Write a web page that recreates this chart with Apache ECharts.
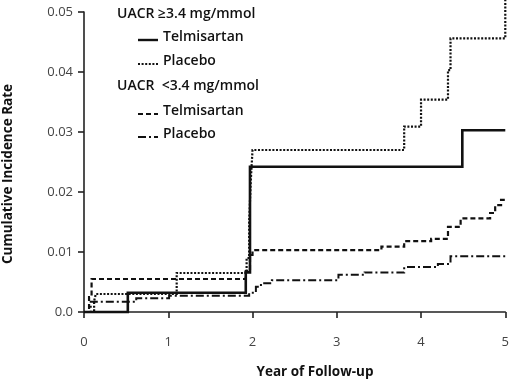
<!DOCTYPE html>
<html><head><meta charset="utf-8">
<script src="https://cdn.jsdelivr.net/npm/echarts@6/dist/echarts.min.js"></script>
<style>html,body{margin:0;padding:0;background:#fff}#c{width:512px;height:380px}</style>
</head><body><div id="c"></div>
<script>
// Step series: [year, cumulative incidence]
var telmiHigh = [[0,0],[0.52,0],[0.52,0.0032],[1.92,0.0032],[1.92,0.0066],[1.97,0.0066],[1.97,0.0242],[4.49,0.0242],[4.49,0.0303],[5,0.0303]];
var placeboHigh = [[0,0],[0.12,0],[0.12,0.0018],[0.14,0.0018],[0.14,0.003],[1.1,0.003],[1.1,0.0065],[1.93,0.0065],[1.93,0.009],[1.96,0.009],[1.96,0.015],[1.98,0.015],[1.98,0.022],[2.0,0.022],[2.0,0.027],[3.8,0.027],[3.8,0.0309],[4.0,0.0309],[4.0,0.0354],[4.32,0.0354],[4.32,0.0403],[4.35,0.0403],[4.35,0.0456],[5.0,0.0456],[5.0,0.052]];
var telmiLow = [[0,0],[0.06,0],[0.06,0.0025],[0.09,0.0025],[0.09,0.0055],[1.92,0.0055],[1.92,0.0068],[1.97,0.0068],[1.97,0.0095],[2.0,0.0095],[2.0,0.0103],[3.53,0.0103],[3.53,0.0109],[3.8,0.0109],[3.8,0.0118],[4.12,0.0118],[4.12,0.0122],[4.32,0.0122],[4.32,0.0142],[4.47,0.0142],[4.47,0.0156],[4.82,0.0156],[4.82,0.0165],[4.88,0.0165],[4.88,0.0178],[4.95,0.0178],[4.95,0.0187],[5,0.0187]];
var placeboLow = [[0,0],[0.08,0],[0.08,0.0017],[0.62,0.0017],[0.62,0.0023],[1.01,0.0023],[1.01,0.0027],[1.96,0.0027],[1.96,0.0032],[2.04,0.0032],[2.04,0.0042],[2.1,0.0042],[2.1,0.0048],[2.23,0.0048],[2.23,0.0053],[3.02,0.0053],[3.02,0.0062],[3.33,0.0062],[3.33,0.0066],[3.8,0.0066],[3.8,0.0075],[4.2,0.0075],[4.2,0.008],[4.35,0.008],[4.35,0.0093],[5,0.0093]];
var xTicks = [0,1,2,3,4,5];
var yTicks = ['0.0','0.01','0.02','0.03','0.04','0.05'];
var legendHeads = ['UACR \u22653.4 mg/mmol','UACR  <3.4 mg/mmol'];
var legendItems = ['Telmisartan','Placebo','Telmisartan','Placebo'];

var chart = echarts.init(document.getElementById('c'), null, {renderer:'canvas'});
var F = 'Open Sans';
var ink = '#111';
function ser(name, data, type, width, color){
  return {name:name, type:'line', data:data, symbol:'none', clip:false, animation:false,
    lineStyle:{color:color, width:width, type:type, cap:'butt', join:'miter'}};
}
var dashDot = [8,3,2,3];
var dotted = [2,1.6];
var legendY = [17,40,64,89,114,137];
var legendLines = [null,{t:'solid',w:2.4},{t:dotted,w:2.2},null,{t:[5,3],w:2.2},{t:dashDot,w:2}];
var gfx = [];
var itemIdx = 0, headIdx = 0;
for (var i=0;i<6;i++){
  if (legendLines[i]===null){
    gfx.push({type:'text', left:117, top:legendY[i]-10, style:{text:legendHeads[headIdx++], font:'600 14px '+F, fill:ink}});
  } else {
    gfx.push({type:'line', shape:{x1:138,y1:legendY[i],x2:158,y2:legendY[i]}, style:{stroke:ink, lineWidth:legendLines[i].w, lineDash:legendLines[i].t==='solid'?null:legendLines[i].t}});
    gfx.push({type:'text', left:163, top:legendY[i]-10, style:{text:legendItems[itemIdx++], font:'600 14px '+F, fill:ink}});
  }
}
gfx.push({type:'text', x:315, y:372, style:{text:'Year of Follow-up', font:'bold 13.5px '+F, fill:ink, align:'center', verticalAlign:'middle'}});
gfx.push({type:'text', x:8, y:174, rotation:Math.PI/2, style:{text:'Cumulative Incidence Rate', font:'bold 13.5px '+F, fill:ink, align:'center', verticalAlign:'middle'}});

chart.setOption({
  animation:false,
  backgroundColor:'#fff',
  grid:{left:84, right:4, top:12, bottom:68, containLabel:false},
  xAxis:{type:'value', min:0, max:5, interval:1, offset:13,
    axisLine:{show:true, lineStyle:{color:'#222', width:1.6}},
    axisTick:{show:true, length:6, lineStyle:{color:'#222', width:1.6}},
    splitLine:{show:false},
    axisLabel:{margin:11, color:'#444', fontFamily:F, fontSize:13, formatter:function(v){return String(xTicks[Math.round(v)]);}}},
  yAxis:{type:'value', min:0, max:0.05, interval:0.01, offset:2,
    axisLine:{show:true, lineStyle:{color:'#222', width:1.6}},
    axisTick:{show:true, length:6, lineStyle:{color:'#222', width:1.6}},
    splitLine:{show:false},
    axisLabel:{margin:9, color:'#444', fontFamily:F, fontSize:13, formatter:function(v){return yTicks[Math.round(v*100)];}}},
  graphic:gfx,
  series:[
    ser('Telmisartan \u22653.4', telmiHigh, 'solid', 2.6, ink),
    ser('Placebo \u22653.4', placeboHigh, dotted, 2.2, ink),
    ser('Telmisartan <3.4', telmiLow, [5,3], 2.2, ink),
    ser('Placebo <3.4', placeboLow, dashDot, 2, ink)
  ]
});
</script></body></html>
